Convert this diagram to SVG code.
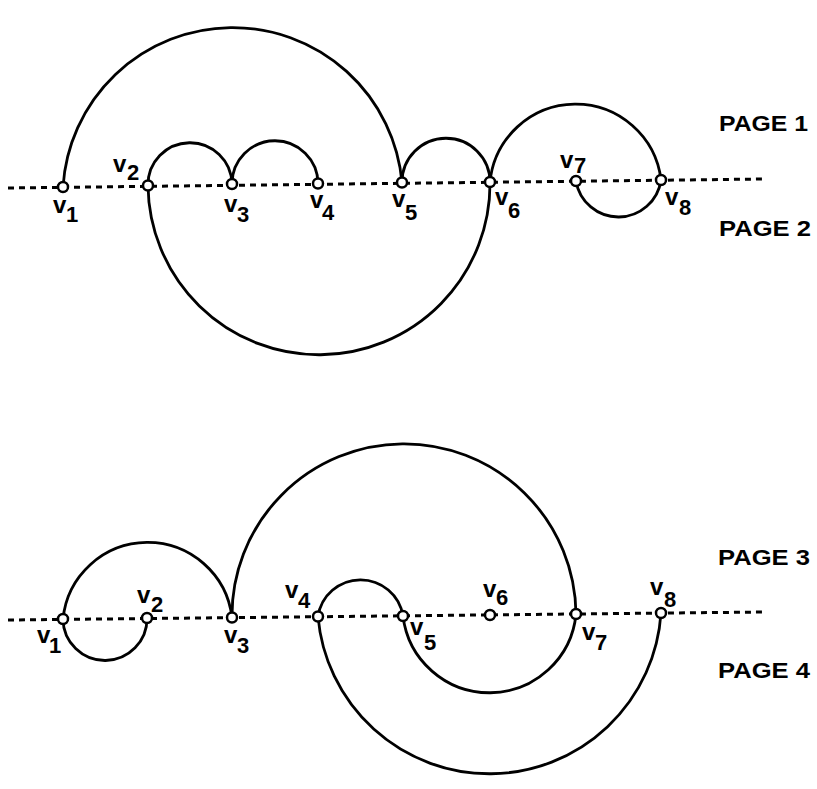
<svg xmlns="http://www.w3.org/2000/svg" width="817" height="789" viewBox="0 0 817 789">
<style>
.axis{stroke:#000;stroke-width:3;stroke-dasharray:6 5;fill:none}
.edge{stroke:#000;stroke-width:2.8;fill:none}
.vx{fill:#fff;stroke:#000;stroke-width:2.5}
.lbl{font-family:"Liberation Sans",Arial,sans-serif;font-weight:bold;font-size:24px;fill:#000}
.sub{font-size:22px}
.page{font-family:"Liberation Sans",Arial,sans-serif;font-weight:bold;font-size:22px;fill:#000}
</style>
<rect width="817" height="789" fill="#fff"/>
<g id="connectors">
  <line class="axis" x1="8" y1="188" x2="765" y2="179"/>
  <line class="axis" x1="8" y1="620" x2="765" y2="612"/>
  <!-- top -->
  <path class="edge" d="M63 187 A170 170 0 0 1 402 182.5"/>
  <path class="edge" d="M148 185.5 A42 42 0 0 1 232 184"/>
  <path class="edge" d="M232 184 A43 43 0 0 1 318 183.5"/>
  <path class="edge" d="M402 182.5 A44 44 0 0 1 490 182"/>
  <path class="edge" d="M490 182 A86 86 0 0 1 661 180"/>
  <path class="edge" d="M576 181 A43 43 0 0 0 661 180"/>
  <path class="edge" d="M148 185.5 A171 171 0 0 0 490 182"/>
  <!-- bottom -->
  <path class="edge" d="M63 619 A85 85 0 0 1 232 617.5"/>
  <path class="edge" d="M63 619 A42 42 0 0 0 147 618"/>
  <path class="edge" d="M232 617.5 A172 172 0 0 1 576 614"/>
  <path class="edge" d="M318 616.5 A43 43 0 0 1 403 616"/>
  <path class="edge" d="M403 616 A87 87 0 0 0 576 614"/>
  <path class="edge" d="M318 616.5 A172 172 0 0 0 661 613"/>
</g>
<g id="top-v1"><circle class="vx" cx="63" cy="187" r="5"/><text class="lbl" x="53" y="213">v<tspan class="sub" x="66" y="222">1</tspan></text></g>
<g id="top-v2"><circle class="vx" cx="148" cy="185.5" r="5"/><text class="lbl" x="113" y="172">v<tspan class="sub" x="127" y="180">2</tspan></text></g>
<g id="top-v3"><circle class="vx" cx="232" cy="184" r="5"/><text class="lbl" x="224" y="212">v<tspan class="sub" x="237" y="222">3</tspan></text></g>
<g id="top-v4"><circle class="vx" cx="318" cy="183.5" r="5"/><text class="lbl" x="310" y="208">v<tspan class="sub" x="322" y="220">4</tspan></text></g>
<g id="top-v5"><circle class="vx" cx="402" cy="182.5" r="5"/><text class="lbl" x="392" y="207">v<tspan class="sub" x="405" y="220">5</tspan></text></g>
<g id="top-v6"><circle class="vx" cx="490" cy="182" r="5"/><text class="lbl" x="495" y="205">v<tspan class="sub" x="508" y="218">6</tspan></text></g>
<g id="top-v7"><circle class="vx" cx="576" cy="181" r="5"/><text class="lbl" x="560" y="168">v<tspan class="sub" x="574" y="173">7</tspan></text></g>
<g id="top-v8"><circle class="vx" cx="661" cy="180" r="5"/><text class="lbl" x="665" y="205">v<tspan class="sub" x="679" y="215">8</tspan></text></g>

<g id="bot-v1"><circle class="vx" cx="63" cy="619" r="5"/><text class="lbl" x="37" y="643">v<tspan class="sub" x="49" y="653">1</tspan></text></g>
<g id="bot-v2"><circle class="vx" cx="147" cy="618" r="5"/><text class="lbl" x="137" y="603">v<tspan class="sub" x="151" y="612">2</tspan></text></g>
<g id="bot-v3"><circle class="vx" cx="232" cy="617.5" r="5"/><text class="lbl" x="224" y="643">v<tspan class="sub" x="237" y="653">3</tspan></text></g>
<g id="bot-v4"><circle class="vx" cx="318" cy="616.5" r="5"/><text class="lbl" x="285" y="598">v<tspan class="sub" x="298" y="608">4</tspan></text></g>
<g id="bot-v5"><circle class="vx" cx="403" cy="616" r="5"/><text class="lbl" x="410" y="635">v<tspan class="sub" x="424" y="650">5</tspan></text></g>
<g id="bot-v6"><circle class="vx" cx="490" cy="615" r="5"/><text class="lbl" x="483" y="597">v<tspan class="sub" x="496" y="605">6</tspan></text></g>
<g id="bot-v7"><circle class="vx" cx="576" cy="614" r="5"/><text class="lbl" x="582" y="640">v<tspan class="sub" x="595" y="650">7</tspan></text></g>
<g id="bot-v8"><circle class="vx" cx="661" cy="613" r="5"/><text class="lbl" x="650" y="595">v<tspan class="sub" x="664" y="607">8</tspan></text></g>

<g id="page-labels">
  <text class="page" x="719" y="131" textLength="89" lengthAdjust="spacingAndGlyphs">PAGE 1</text>
  <text class="page" x="719" y="236" textLength="92" lengthAdjust="spacingAndGlyphs">PAGE 2</text>
  <text class="page" x="718" y="565" textLength="92" lengthAdjust="spacingAndGlyphs">PAGE 3</text>
  <text class="page" x="718" y="678" textLength="92" lengthAdjust="spacingAndGlyphs">PAGE 4</text>
</g>
</svg>
